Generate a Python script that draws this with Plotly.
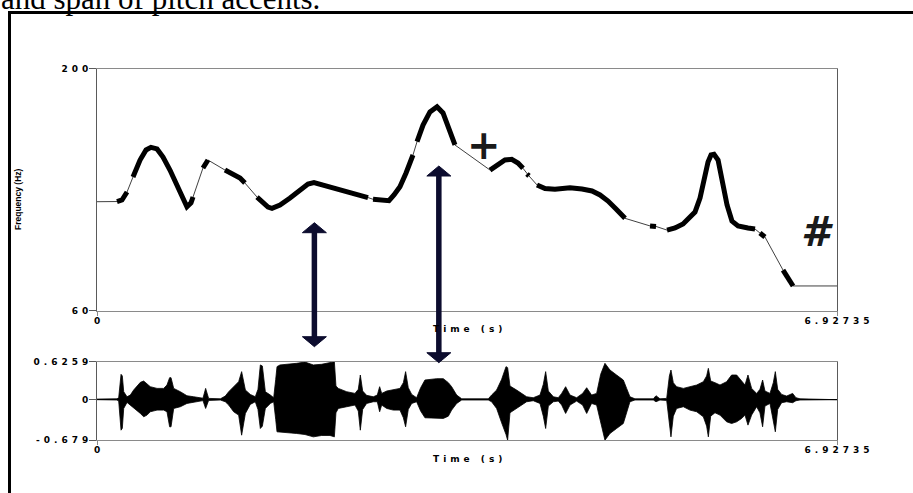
import plotly.graph_objects as go

# ---------------- data ----------------
T_END = 6.92735

# F0 contour (Hz): voiced stretches as separate lists of times (s) and values
voiced_t = [
    [0.187, 0.234, 0.281],
    [0.337, 0.403, 0.459, 0.505, 0.562, 0.618, 0.683, 0.749, 0.796, 0.842, 0.880, 0.899],
    [0.992, 1.020, 1.039],
    [1.198, 1.264, 1.339, 1.385],
    [1.498, 1.554, 1.601, 1.638, 1.713, 1.807, 1.900, 1.975, 2.031, 2.106, 2.228, 2.368, 2.481, 2.537],
    [2.584, 2.668, 2.733, 2.780, 2.836, 2.893, 2.958],
    [2.996, 3.052, 3.117, 3.183, 3.239, 3.295, 3.351],
    [3.679, 3.744, 3.819, 3.882, 3.941, 3.988],
    [4.025, 4.044],
    [4.119, 4.194, 4.287, 4.428, 4.540, 4.634, 4.709, 4.784, 4.859, 4.943],
    [5.177, 5.233],
    [5.336, 5.411, 5.486, 5.551, 5.598, 5.645, 5.683, 5.720, 5.748, 5.776, 5.814, 5.851,
     5.898, 5.944, 6.001, 6.094, 6.160],
    [6.206, 6.253],
    [6.422, 6.469, 6.506, 6.516],
]
voiced_f = [
    [123.1, 124.0, 128.6],
    [137.3, 147.1, 152.9, 154.4, 153.5, 148.8, 141.3, 132.7, 125.1, 120.1, 122.3, 125.7],
    [142.5, 145.4, 147.1],
    [141.3, 139.5, 136.7, 133.8],
    [125.7, 122.3, 119.9, 119.2, 121.1, 125.1, 129.8, 133.2, 134.0, 132.7, 130.3, 128.0, 126.3, 125.4],
    [124.4, 123.7, 123.6, 126.9, 131.7, 139.6, 150.0],
    [157.7, 167.3, 174.9, 177.9, 174.3, 165.6, 155.8],
    [141.3, 144.2, 147.1, 147.5, 145.4, 142.3],
    [139.0, 137.9],
    [132.7, 130.6, 130.2, 131.1, 130.3, 129.2, 126.9, 123.4, 118.8, 113.4],
    [109.0, 108.7],
    [106.6, 107.8, 110.1, 113.6, 117.0, 125.1, 135.5, 146.0, 150.0, 150.4, 147.1, 135.5,
     121.1, 111.8, 109.0, 107.8, 107.2],
    [104.9, 102.6],
    [83.5, 78.9, 74.9, 74.3],
]
# F0 held at the start and at the end of the file
edge_f = [123.0, 74.3]

# waveform envelope: time (s), upper and lower amplitude
wave_t = [0.000, 0.187, 0.203, 0.225, 0.237, 0.250, 0.281, 0.312, 0.343, 0.368, 0.406, 0.437,
          0.468, 0.499, 0.562, 0.624, 0.655, 0.680, 0.693, 0.718, 0.780, 0.842, 0.905, 0.967,
          0.992, 1.017, 1.045, 1.155, 1.201, 1.233, 1.279, 1.326, 1.354, 1.389, 1.435, 1.482,
          1.507, 1.529, 1.548, 1.576, 1.623, 1.654, 1.673, 1.685, 1.713, 1.791, 1.869, 1.947,
          2.025, 2.103, 2.181, 2.222, 2.237, 2.259, 2.337, 2.415, 2.446, 2.465, 2.487, 2.524,
          2.587, 2.624, 2.646, 2.665, 2.712, 2.774, 2.836, 2.868, 2.889, 2.914, 2.946, 2.992,
          3.030, 3.070, 3.117, 3.180, 3.242, 3.289, 3.320, 3.367, 3.414, 3.663, 3.694, 3.741,
          3.788, 3.829, 3.844, 3.866, 3.928, 3.975, 4.022, 4.084, 4.147, 4.178, 4.200, 4.225,
          4.272, 4.318, 4.350, 4.387, 4.428, 4.490, 4.546, 4.584, 4.630, 4.677, 4.715, 4.755,
          4.802, 4.864, 4.927, 4.958, 4.989, 5.036, 5.208, 5.233, 5.270, 5.333, 5.358, 5.373,
          5.395, 5.426, 5.489, 5.551, 5.614, 5.676, 5.707, 5.723, 5.745, 5.785, 5.832, 5.894,
          5.941, 5.988, 6.035, 6.066, 6.094, 6.128, 6.175, 6.206, 6.231, 6.253, 6.300, 6.331,
          6.350, 6.372, 6.409, 6.456, 6.512, 6.543, 6.581, 6.927]
wave_hi = [0.005, 0.010, 0.028, 0.416, 0.390, 0.128, 0.044, 0.072, 0.155, 0.211, 0.283, 0.305,
           0.250, 0.211, 0.183, 0.183, 0.239, 0.361, 0.361, 0.183, 0.128, 0.061, 0.044, 0.028,
           0.020, 0.183, 0.017, 0.010, 0.055, 0.128, 0.211, 0.294, 0.461, 0.155, 0.083, 0.044,
           0.167, 0.572, 0.555, 0.128, 0.072, 0.028, 0.333, 0.544, 0.572, 0.583, 0.599, 0.620,
           0.572, 0.583, 0.616, 0.626, 0.222, 0.183, 0.128, 0.100, 0.167, 0.405, 0.139, 0.067,
           0.044, 0.072, 0.211, 0.100, 0.139, 0.155, 0.183, 0.278, 0.461, 0.194, 0.083, 0.028,
           0.194, 0.322, 0.333, 0.344, 0.344, 0.278, 0.211, 0.072, 0.010, 0.010, 0.072, 0.155,
           0.333, 0.544, 0.527, 0.222, 0.155, 0.100, 0.044, 0.028, 0.072, 0.250, 0.461, 0.139,
           0.044, 0.028, 0.100, 0.211, 0.072, 0.028, 0.100, 0.194, 0.072, 0.100, 0.416, 0.599,
           0.488, 0.405, 0.322, 0.183, 0.044, 0.010, 0.010, 0.061, 0.010, 0.017, 0.389, 0.488,
           0.278, 0.211, 0.183, 0.211, 0.239, 0.294, 0.389, 0.516, 0.305, 0.278, 0.239, 0.294,
           0.405, 0.405, 0.294, 0.239, 0.405, 0.183, 0.100, 0.167, 0.322, 0.139, 0.100, 0.278,
           0.461, 0.167, 0.083, 0.055, 0.100, 0.028, 0.010, 0.005]
wave_lo = [-0.005, -0.010, -0.028, -0.511, -0.480, -0.150, -0.050, -0.094, -0.150, -0.178, -0.233, -0.289,
           -0.261, -0.205, -0.178, -0.178, -0.205, -0.455, -0.455, -0.150, -0.122, -0.067, -0.039, -0.028,
           -0.020, -0.150, -0.017, -0.010, -0.039, -0.094, -0.205, -0.261, -0.594, -0.233, -0.083, -0.039,
           -0.167, -0.483, -0.444, -0.150, -0.067, -0.039, -0.333, -0.538, -0.538, -0.555, -0.566, -0.583,
           -0.622, -0.599, -0.599, -0.622, -0.222, -0.150, -0.122, -0.094, -0.194, -0.511, -0.167, -0.067,
           -0.039, -0.039, -0.205, -0.094, -0.150, -0.178, -0.178, -0.305, -0.455, -0.167, -0.067, -0.039,
           -0.194, -0.305, -0.316, -0.316, -0.316, -0.278, -0.178, -0.067, -0.010, -0.010, -0.039, -0.150,
           -0.389, -0.583, -0.677, -0.222, -0.150, -0.094, -0.039, -0.022, -0.067, -0.278, -0.483, -0.111,
           -0.039, -0.028, -0.094, -0.233, -0.094, -0.028, -0.094, -0.233, -0.067, -0.094, -0.389, -0.677,
           -0.566, -0.483, -0.400, -0.205, -0.039, -0.010, -0.010, -0.039, -0.010, -0.017, -0.389, -0.622,
           -0.278, -0.150, -0.122, -0.178, -0.205, -0.289, -0.444, -0.622, -0.278, -0.222, -0.261, -0.372,
           -0.400, -0.372, -0.316, -0.261, -0.427, -0.261, -0.122, -0.222, -0.455, -0.111, -0.067, -0.333,
           -0.538, -0.167, -0.055, -0.039, -0.055, -0.022, -0.010, -0.005]

# axis ticks
f0_ticks = [60, 200]
f0_ticklabels = ["60", "200"]
amp_ticks = [-0.679, 0, 0.6259]
amp_ticklabels = ["-0.679", "0", "0.6259"]
time_ticks = [0, T_END]
time_ticklabels = ["0", "6.92735"]

# double arrows linking pitch peaks to the waveform: time (s)
arrow_t = [2.035, 3.200]

# ---------------- layout helpers ----------------
W, H = 913, 493


def px(x):
    return x / W


def py(y):
    return 1 - y / H


def spaced(s, gap=4.0):
    # wide letter spacing between characters (none after the last one)
    if len(s) < 2:
        return s
    return f'<span style="letter-spacing:{gap}px">{s[:-1]}</span>{s[-1]}'


TICK_FONT = dict(family="DejaVu Sans", size=9, color="#000000", weight="bold")
X_DOM = [px(97), px(837)]
F0_DOM = [py(310.7), py(68.5)]
WAVE_DOM = [py(440.3), py(361.7)]
NAVY = "#0c0c2e"

fig = go.Figure()

# thin line through every frame (bridges the unvoiced gaps)
all_t = [t for seg in voiced_t for t in seg]
all_f = [f for seg in voiced_f for f in seg]
fig.add_trace(go.Scatter(
    x=[0] + all_t + [T_END], y=[edge_f[0]] + all_f + [edge_f[1]],
    mode="lines", line=dict(color="#2a2a2a", width=0.9),
    xaxis="x", yaxis="y", hoverinfo="skip", showlegend=False))

# heavy strokes for the voiced stretches
thick_t, thick_f = [], []
for ts, fs in zip(voiced_t, voiced_f):
    thick_t += ts + [None]
    thick_f += fs + [None]
fig.add_trace(go.Scatter(
    x=thick_t, y=thick_f, mode="lines",
    line=dict(color="black", width=5),
    xaxis="x", yaxis="y", hoverinfo="skip", showlegend=False))

# waveform as a filled envelope
fig.add_trace(go.Scatter(
    x=wave_t + wave_t[::-1], y=wave_hi + wave_lo[::-1],
    mode="lines", fill="toself", fillcolor="black",
    line=dict(color="black", width=0.8),
    xaxis="x2", yaxis="y2", hoverinfo="skip", showlegend=False))

axis_common = dict(showgrid=False, showline=True, mirror=True, ticks="outside",
                   tickwidth=1, tickfont=TICK_FONT, fixedrange=True, automargin=False)

fig.update_layout(
    width=W, height=H,
    margin=dict(l=0, r=0, t=0, b=0, pad=0, autoexpand=False),
    paper_bgcolor="white", plot_bgcolor="white",
    xaxis=dict(domain=X_DOM, range=[0, T_END], anchor="y",
               tickvals=time_ticks, ticktext=[spaced(s) for s in time_ticklabels],
               linecolor="#8a8a8a", tickcolor="#8a8a8a", ticklen=4, zeroline=False,
               ticklabelstandoff=-3, **axis_common),
    yaxis=dict(domain=F0_DOM, range=[60, 200], anchor="x",
               tickvals=f0_ticks, ticktext=[spaced(s) for s in f0_ticklabels],
               linecolor="#5a5a5a", tickcolor="#5a5a5a", ticklen=7, zeroline=False,
               ticklabelstandoff=-1, **axis_common),
    xaxis2=dict(domain=X_DOM, range=[0, T_END], anchor="y2",
                tickvals=time_ticks, ticktext=[spaced(s) for s in time_ticklabels],
                linecolor="#8a8a8a", tickcolor="#8a8a8a", ticklen=4, zeroline=False,
                ticklabelstandoff=-3, **axis_common),
    yaxis2=dict(domain=WAVE_DOM, range=[-0.679, 0.6259], anchor="x2",
                tickvals=amp_ticks, ticktext=[spaced(s) for s in amp_ticklabels],
                linecolor="#5a5a5a", tickcolor="#5a5a5a", ticklen=7,
                zeroline=True, zerolinecolor="#222222", zerolinewidth=1,
                ticklabelstandoff=-1, **axis_common),
)

# axis titles
title_font = dict(family="DejaVu Sans", size=9, color="#000000", weight="bold")
for ycen in (329, 459):
    fig.add_annotation(x=(X_DOM[0] + X_DOM[1]) / 2, y=py(ycen), xref="paper", yref="paper",
                       text=spaced("Time (s)"), showarrow=False, font=title_font,
                       xanchor="center", yanchor="middle")
fig.add_annotation(x=px(18), y=py(199), xref="paper", yref="paper",
                   text="Frequency (Hz)", textangle=-90, showarrow=False,
                   font=dict(family="Liberation Sans Narrow, Liberation Sans", size=8.5,
                             color="#000000", weight="bold"),
                   xanchor="center", yanchor="middle")

# boundary-tone marks on the contour
fig.add_annotation(x=3.627, y=155.8, xref="x", yref="y", text="<b>+</b>", showarrow=False,
                   font=dict(family="DejaVu Sans", size=40, color="#1a1a1a"),
                   xanchor="center", yanchor="middle")
fig.add_annotation(x=6.74, y=105.5, xref="x", yref="y", text="<b><i>#</i></b>", showarrow=False,
                   font=dict(family="DejaVu Sans", size=41, color="#1a1a1a"),
                   xanchor="center", yanchor="middle")

# double-headed arrows (vertical extents in page pixels)
arrow_ends = [(222.7, 346.7), (166.0, 362.7)]
HEAD_LEN = 10
HEAD_HALF = 12 * T_END / 740
for t, (ytop, ybot) in zip(arrow_t, arrow_ends):
    fig.add_shape(type="line", xref="x", yref="paper", x0=t, x1=t,
                  y0=py(ytop + HEAD_LEN - 1), y1=py(ybot - HEAD_LEN + 1),
                  line=dict(color=NAVY, width=5.5))
    top = f"M {t - HEAD_HALF},{py(ytop + HEAD_LEN)} L {t + HEAD_HALF},{py(ytop + HEAD_LEN)} L {t},{py(ytop)} Z"
    bot = f"M {t - HEAD_HALF},{py(ybot - HEAD_LEN)} L {t + HEAD_HALF},{py(ybot - HEAD_LEN)} L {t},{py(ybot)} Z"
    for p in (top, bot):
        fig.add_shape(type="path", xref="x", yref="paper", path=p,
                      fillcolor=NAVY, line=dict(color=NAVY, width=1))

# surrounding box and the running text above it
fig.add_shape(type="rect", xref="paper", yref="paper",
              x0=px(9.5), x1=1.05, y0=-0.05, y1=py(12.5),
              line=dict(color="black", width=3), fillcolor="rgba(0,0,0,0)")
fig.add_annotation(x=px(-1), y=py(-2), xref="paper", yref="paper",
                   text="and span of pitch accents.", showarrow=False,
                   font=dict(family="Liberation Serif", size=31, color="black"),
                   xanchor="left", yanchor="middle")

fig.write_html("out.html")
